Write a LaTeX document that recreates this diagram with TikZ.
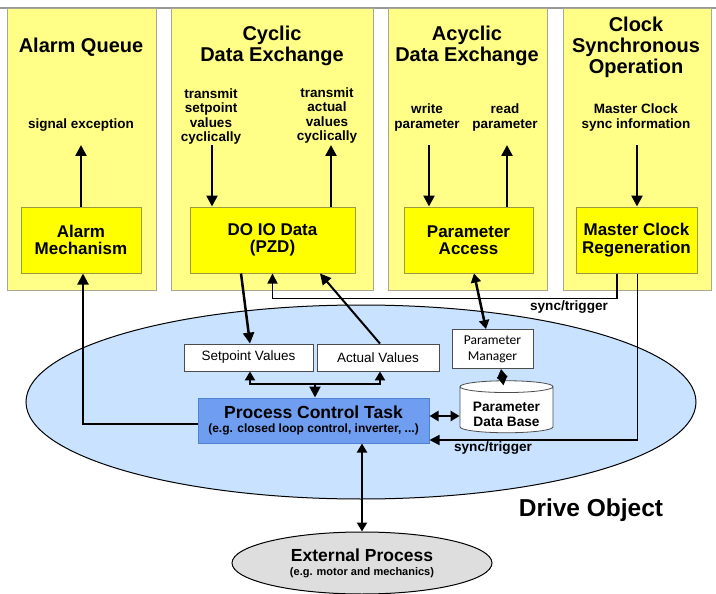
\documentclass[tikz,border=0pt]{standalone}
\usepackage{fontspec}
\setmainfont{Liberation Sans}
\newfontfamily\calfont{Carlito}
\usetikzlibrary{arrows.meta,shapes.geometric}

\definecolor{panelyellow}{HTML}{FFFF88}
\definecolor{boxyellow}{HTML}{FFFF00}
\definecolor{paneledge}{HTML}{A8A890}
\definecolor{boxedge}{HTML}{9A9A40}
\definecolor{driveblue}{HTML}{C8E2FF}
\definecolor{taskblue}{HTML}{6F9DEF}
\definecolor{taskedge}{HTML}{5080D0}
\definecolor{procgray}{HTML}{DEDEDE}

\begin{document}
\begin{tikzpicture}[x=1pt,y=-1pt,
    panel/.style={draw=paneledge, fill=panelyellow, line width=1pt, minimum height=281pt},
    func/.style={draw=boxedge, fill=boxyellow, line width=1pt, minimum height=66pt,
        align=center, font=\bfseries\fontsize{17}{17.5}\selectfont},
    title/.style={align=center, font=\bfseries\fontsize{20}{21}\selectfont},
    note/.style={align=center, font=\bfseries\fontsize{13.5}{14.5}\selectfont},
    valbox/.style={draw=black!70, fill=white, line width=0.8pt, minimum height=27pt,
        font=\fontsize{13.5}{15}\selectfont},
    arr/.style={line width=2.5pt, -{Triangle[length=11pt,width=11pt]}},
    dblarr/.style={line width=2.5pt, {Triangle[length=9pt,width=10pt]}-{Triangle[length=9pt,width=10pt]}},
    syncline/.style={line width=1.6pt, -{Triangle[length=10pt,width=10pt]}},
    synclbl/.style={font=\bfseries\fontsize{13.6}{15}\selectfont},
]
    \useasboundingbox (0,0) rectangle (716,594);
    \draw[gray!80, line width=2pt] (0,8) -- (716,8);

    % -- the four yellow panels ----------------------------------------------
    \node[panel, minimum width=149pt] (qpanel) at (81.5,149.5) {};
    \node[panel, minimum width=202pt] (cpanel) at (272,149.5) {};
    \node[panel, minimum width=159pt] (apanel) at (467.5,149.5) {};
    \node[panel, minimum width=148pt] (spanel) at (637,149.5) {};

    \node[title] (qtitle) at (81,47) {Alarm Queue};
    \node[title] (ctitle) at (272,46) {Cyclic\\Data Exchange};
    \node[title] (atitle) at (467,46) {Acyclic\\Data Exchange};
    \node[title] (stitle) at (636,47) {Clock\\Synchronous\\Operation};

    \node[note] (sigexc) at (81,125) {signal exception};
    \node[note] (txset) at (211,116.5) {transmit\\setpoint\\values\\cyclically};
    \node[note] (txact) at (327,115.5) {transmit\\actual\\values\\cyclically};
    \node[note] (wrpar) at (427,117.5) {write\\parameter};
    \node[note] (rdpar) at (505,117.5) {read\\parameter};
    \node[note] (mcsync) at (636,117.5) {Master Clock\\sync information};

    % -- function blocks -------------------------------------------------------
    \node[func, minimum width=120pt] (alarm) at (81,240) {Alarm\\Mechanism};
    \node[func, minimum width=165pt] (doio) at (272.5,240) {DO IO Data\\(PZD)};
    \node[func, minimum width=129pt] (paccess) at (468.5,240) {Parameter\\Access};
    \node[func, minimum width=121pt] (mclock) at (636.5,240) {Master Clock\\Regeneration};

    % -- arrows below the notes ----------------------------------------------
    \foreach \nm/\x in {sigexc/81, txset/212, txact/331, wrpar/429, rdpar/507, mcsync/637} {
        \coordinate (\nm-end) at (\x,145);
    }
    \draw[arr] (alarm.north) -- (sigexc-end);
    \draw[arr] (txset-end) -- (txset-end |- doio.north);
    \draw[arr] (txact-end |- doio.north) -- (txact-end);
    \draw[arr] (wrpar-end) -- (wrpar-end |- paccess.north);
    \draw[arr] (rdpar-end |- paccess.north) -- (rdpar-end);
    \draw[arr] (mcsync-end) -- (mcsync-end |- mclock.north);

    % -- drive object ----------------------------------------------------------
    \node[ellipse, draw, fill=driveblue, line width=1pt, minimum width=670pt,
        minimum height=194pt] (drive) at (361,402) {};
    \node[font=\bfseries\fontsize{24.5}{26}\selectfont] (drivelbl) at (591,510) {Drive Object};

    \node[valbox, minimum width=129pt] (setpt) at (248.5,357.5) {Setpoint Values};
    \node[valbox, minimum width=122pt] (actual) at (378,357.5) {Actual Values};
    \node[valbox, minimum width=81pt, minimum height=39pt, align=center,
        font=\calfont\fontsize{13.5}{16}\selectfont] (pmgr) at (492.5,349) {Parameter\\Manager};
    \node[cylinder, shape border rotate=90, aspect=0.16, draw=black!70, fill=white,
        line width=0.8pt, minimum width=93pt, minimum height=52pt, inner ysep=1pt,
        font=\bfseries\fontsize{13.7}{15}\selectfont] (pdb) at (506.5,411)
        {\raisebox{-5pt}[\height][\depth]{\begin{tabular}{@{}c@{}}Parameter\\Data Base\end{tabular}}};

    \node[draw=taskedge, fill=taskblue, line width=1pt, minimum width=231pt,
        minimum height=45pt, align=center] (pct) at (313.5,420.5)
        {{\bfseries\fontsize{17.5}{19}\selectfont Process Control Task}\\[2.5pt]
         {\bfseries\fontsize{12}{13}\selectfont (e.g. closed loop control, inverter, ...)}};

    \node[ellipse, draw, fill=procgray, line width=1pt, minimum width=260pt,
        minimum height=62pt, align=center] (ext) at (362,563)
        {{\bfseries\fontsize{17.5}{19}\selectfont External Process}\\[2pt]
         {\bfseries\fontsize{11}{12}\selectfont (e.g. motor and mechanics)}};

    % -- connectors ------------------------------------------------------------
    \draw[line width=2pt, -{Triangle[length=11pt,width=11pt]}]
        ([yshift=-3pt]pct.west) -| ([xshift=2pt]alarm.south);
    \draw[arr] ([xshift=-31.5pt]doio.south) -- ([xshift=1.5pt]setpt.north);
    \draw[arr, line width=2pt] ([xshift=2pt]actual.north) -- ([xshift=47.5pt]doio.south);

    \draw[syncline] ([xshift=-19.5pt]mclock.south) -- ++(0,25) -| (doio.south);
    \node[synclbl] (sync1) at (569,307) {sync/trigger};
    \draw[syncline] ([xshift=1pt]mclock.south) |- ([yshift=-19.5pt]pct.east);
    \node[synclbl] (sync2) at (493,448) {sync/trigger};

    \draw[dblarr] ([xshift=5.5pt]paccess.south) -- ([xshift=-6.5pt]pmgr.north);
    \draw[dblarr] ([xshift=8.5pt]pmgr.south) -- ([xshift=-3pt,yshift=-5pt]pdb.north);
    \draw[dblarr] ([yshift=4.5pt]pct.east) -- ([yshift=4.5pt]pct.east -| pdb.west);
    \draw[dblarr] ([xshift=48.5pt]pct.south) -- ([xshift=48.5pt]pct.south |- ext.north);

    % -- values <-> process control task ----------------------------------------
    \coordinate (junc) at (315,384);
    \draw[dblarr, line width=2pt] ([xshift=1.5pt]setpt.south) |- (junc) -| ([xshift=2pt]actual.south);
    \draw[arr, line width=2pt] (junc) -- (junc |- pct.north);
\end{tikzpicture}
\end{document}
